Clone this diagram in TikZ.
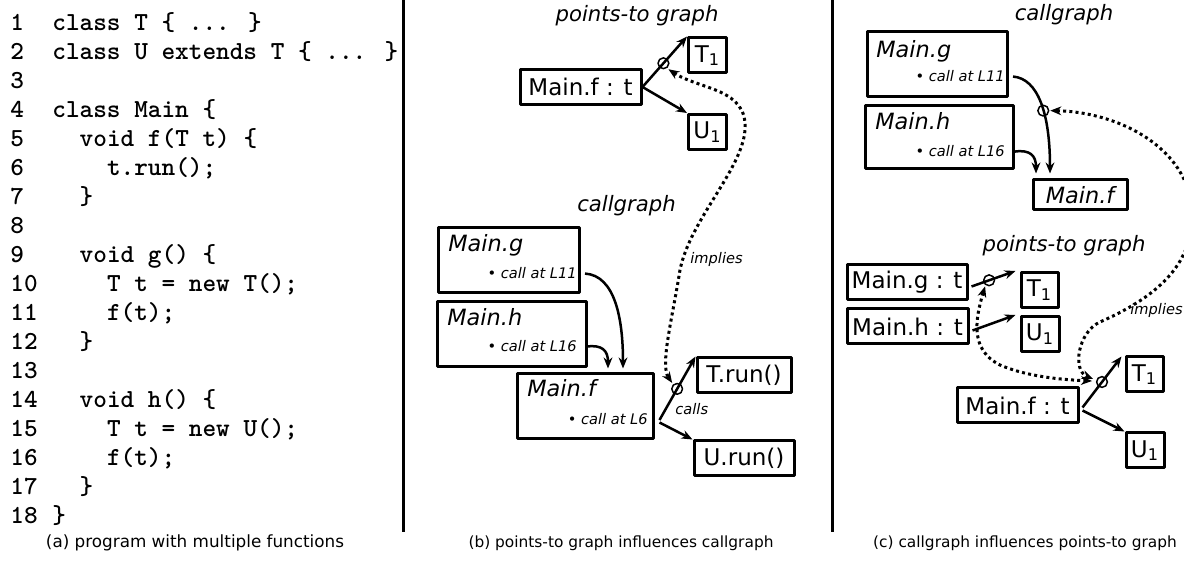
\documentclass[tikz,border=0pt]{standalone}
\usepackage{fontspec}
\setmainfont{DejaVu Sans}
\newfontfamily\codefam{lmmonolt10-bold}[Extension=.otf]
\usetikzlibrary{arrows.meta}

\newcommand\boxfont{\fontsize{11.5pt}{13pt}\selectfont}
\newcommand\fnfont{\fontsize{11.2pt}{13pt}\selectfont\itshape}
\newcommand\headfont{\fontsize{10.6pt}{12pt}\selectfont\itshape}
\newcommand\notefont{\fontsize{7.3pt}{9pt}\selectfont\itshape}
\newcommand\capfont{\fontsize{8.4pt}{10pt}\selectfont}
\newcommand\codefont{\fontsize{13pt}{14.4pt}\selectfont\codefam}

\begin{document}
\begin{tikzpicture}[x=0.5pt, y=-0.5pt, line join=round, >={Stealth[length=5.5pt,width=4.4pt]},
		box/.style={draw, line width=1.5pt, inner sep=0pt},
		varbox/.style={box, minimum width=60.5pt, minimum height=17.5pt, font=\boxfont},
		objbox/.style={box, minimum width=19pt, minimum height=17.5pt, font=\boxfont},
		fnbox/.style={box, minimum height=32.5pt},
		fnname/.style={anchor=base west, inner sep=0pt, font=\fnfont},
		callsite/.style={anchor=base east, inner sep=0pt, font=\notefont},
		note/.style={anchor=base west, inner sep=0pt, font=\notefont},
		edge/.style={->, line width=1.25pt},
		ring/.style={line width=0.75pt},
		implies/.style={<->, line width=1.5pt, dash pattern=on 1.5pt off 1.6pt},
		rule/.style={line width=1.5pt},
		title/.style={anchor=base, inner sep=0pt, font=\headfont},
		codeline/.style={anchor=base west, inner sep=0pt, font=\codefont},
		caption/.style={anchor=base, inner sep=0pt, font=\capfont}]
	\useasboundingbox (0,0) rectangle (1184,565);
	\clip (0,0) rectangle (1184,565);

	% (a) the program
	\foreach \n/\ind/\txt in {1/0/{class T \{ ... \}}, 2/0/{class U extends T \{ ... \}}, 3/0/{},
		4/0/{class Main \{}, 5/1/{void f(T t) \{}, 6/2/{t.run();}, 7/1/{\}}, 8/0/{},
		9/1/{void g() \{}, 10/2/{T t = new T();}, 11/2/{f(t);}, 12/1/{\}}, 13/0/{},
		14/1/{void h() \{}, 15/2/{T t = new U();}, 16/2/{f(t);}, 17/1/{\}}, 18/0/{\}}}
	{
		\node[codeline] (n\n) at (10,2+29*\n) {\n};
		\node[codeline] (c\n) at (52+27.3*\ind,2+29*\n) {\txt};
	}
	\node[caption] (capa) at (195,548) {(a) program with multiple functions};

	\draw[rule] (403,0) -- (403,532);
	\draw[rule] (832,0) -- (832,532);

	% (b) points-to graph on top, callgraph below
	\node[title] (bpt) at (637,22) {points-to graph};
	\node[varbox] (bf) at (580.5,87) {Main.f : t};
	\node[objbox] (bt) at (707.5,55.5) {T\textsubscript{1}};
	\node[objbox] (bu) at (707.5,132) {U\textsubscript{1}};
	\draw[edge] (bf.east) -- coordinate[pos=0.47] (bx) (bt.north west);
	\draw[edge] (bf.east) -- (bu.north west);
	\draw[ring] (bx) circle[radius=2.7pt];

	\node[title] (bcg) at (626.5,212) {callgraph};
	\node[fnbox, minimum width=70.5pt] (bg) at (508.5,260) {};
	\node[fnname] (bgn) at (448,252) {Main.g};
	\node[callsite] (bgc) at (577,279) {• call at L11};
	\node[fnbox, minimum width=74.5pt] (bh) at (511.5,334.5) {};
	\node[fnname] (bhn) at (447,326) {Main.h};
	\node[callsite] (bhc) at (577,352) {• call at L16};
	\node[fnbox, minimum width=68pt] (bm) at (585,406.5) {};
	\node[fnname] (bmn) at (527,397) {Main.f};
	\node[callsite] (bmc) at (648,425) {• call at L6};
	\node[objbox, minimum width=47pt] (brt) at (744,375.5) {T.run()};
	\node[objbox, minimum width=50pt] (bru) at (744,458.5) {U.run()};

	\draw[edge] ([xshift=4pt]bgc.east) .. controls +(30,2) and +(0,-50) .. ([shift={(38,-4)}]bm.north);
	\draw[edge] ([xshift=5pt]bhc.east) .. controls +(15,-2) and +(0,-18) .. ([shift={(23,-4)}]bm.north);
	\draw[edge] ([shift={(5,13.5)}]bm.east) -- coordinate[pos=0.49] (by) (brt.north west);
	\draw[edge] ([shift={(5,16)}]bm.east) -- (bru.north west);
	\draw[ring] (by) circle[radius=2.7pt];
	\node[note] (bcl) at (675,415) {calls};

	\draw[implies] ([shift={(5,6)}]bx) .. controls (700,90) and (748,88) .. (745,130)
		.. controls (742,170) and (690,220) .. (680,270)
		.. controls (672,320) and (660,365) .. ([shift={(-5,-6)}]by);
	\node[note] (bim) at (690,264) {implies};
	\node[caption, font=\fontsize{7.7pt}{10pt}\selectfont] (capb) at (621,548) {(b) points-to graph influences callgraph};

	% (c) callgraph on top, points-to graph below
	\node[title] (ccg) at (1064,21) {callgraph};
	\node[fnbox, minimum width=70pt] (cg) at (937,64) {};
	\node[fnname] (cgn) at (876,58) {Main.g};
	\node[callsite] (cgc) at (1005,82) {• call at L11};
	\node[fnbox, minimum width=74pt, minimum height=31.5pt] (ch) at (939,137.5) {};
	\node[fnname] (chn) at (875,130) {Main.h};
	\node[callsite] (chc) at (1005,157) {• call at L16};
	\node[box, minimum width=47pt, minimum height=15pt, font=\fnfont] (cm) at (1080,195) {Main.f};
	\draw[edge] ([xshift=4pt]cgc.east) .. controls +(25,2) and +(0,-60) .. coordinate[pos=0.57] (cx) ([shift={(-30,-5)}]cm.north);
	\draw[edge] ([xshift=5pt]chc.east) .. controls +(15,-2) and +(0,-18) .. ([shift={(-44,-5)}]cm.north);
	\draw[ring] (cx) circle[radius=2.7pt];

	\node[title] (cpt) at (1064,252) {points-to graph};
	\node[varbox, minimum width=60pt] (cpg) at (907,282.5) {Main.g : t};
	\node[varbox] (cph) at (907.5,326.5) {Main.h : t};
	\node[objbox, minimum width=18.5pt] (ct1) at (1039.5,290) {T\textsubscript{1}};
	\node[objbox] (cu1) at (1040,334) {U\textsubscript{1}};
	\draw[edge] ([shift={(3,4)}]cpg.east) -- coordinate[pos=0.4] (cz) ([xshift=-2pt]ct1.north west);
	\draw[edge] ([shift={(3,4)}]cph.east) -- ([xshift=-2pt]cu1.north west);
	\draw[ring] (cz) circle[radius=2.7pt];

	\node[varbox] (cpf) at (1017.5,405.5) {Main.f : t};
	\node[objbox, minimum width=18.5pt] (ct2) at (1144.5,374.5) {T\textsubscript{1}};
	\node[objbox] (cu2) at (1145,450.5) {U\textsubscript{1}};
	\draw[edge] ([shift={(3,2)}]cpf.east) -- coordinate[pos=0.5] (cy) ([shift={(-3,1)}]ct2.north west);
	\draw[edge] ([shift={(3,5)}]cpf.east) -- (cu2.north west);
	\draw[ring] (cy) circle[radius=2.7pt];

	\draw[implies] ([xshift=3.5pt]cx) .. controls (1120,112) and (1195,150) .. (1192,220)
		.. controls (1190,270) and (1150,300) .. (1100,322)
		.. controls (1078,332) and (1072,370) .. ([shift={(-9,-3)}]cy);
	\node[note] (cim) at (1130,315) {implies};
	\draw[implies] ([shift={(-4,6)}]cz) .. controls (975,320) and (970,350) .. (1000,365)
		.. controls (1030,378) and (1070,380) .. ([shift={(-10,-1)}]cy);
	\node[caption, font=\fontsize{7.7pt}{10pt}\selectfont] (capc) at (1025,548) {(c) callgraph influences points-to graph};
\end{tikzpicture}
\end{document}
